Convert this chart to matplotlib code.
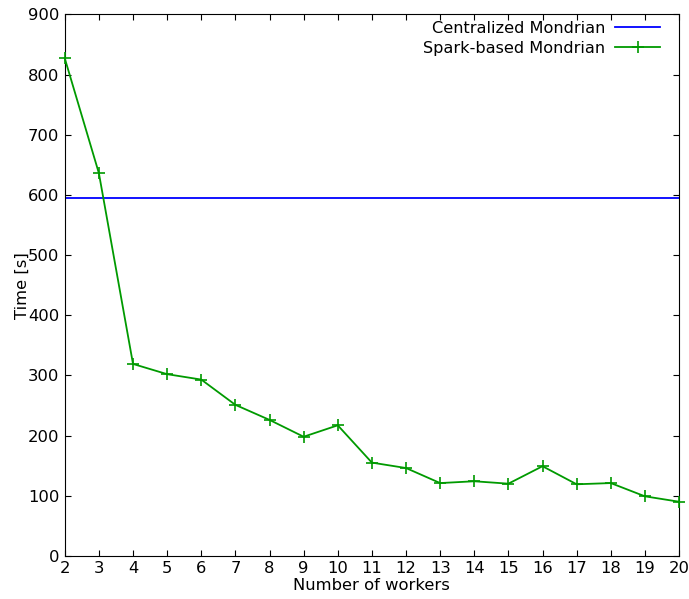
import numpy as np
import matplotlib
matplotlib.use('Agg')
import matplotlib.pyplot as plt

# data
workers = [2, 3, 4, 5, 6, 7, 8, 9, 10, 11, 12, 13, 14, 15, 16, 17, 18, 19, 20]
spark_time = [827, 636, 319, 302, 293, 251, 226, 198, 217, 155, 146, 121, 124, 120, 149, 119, 121, 99, 90]
central_time = 594

plt.rcParams['font.size'] = 11.8
plt.rcParams['xtick.direction'] = 'in'
plt.rcParams['ytick.direction'] = 'in'
plt.rcParams['xtick.top'] = True
plt.rcParams['ytick.right'] = True

fig = plt.figure(figsize=(6.89, 5.99), dpi=100)
ax = fig.add_axes([0.094, 0.072, 0.8915, 0.904])

ax.axhline(central_time, color='#0000ff', lw=1.3, label='Centralized Mondrian')
ax.plot(workers, spark_time, color='#009a00', marker='+', ms=8, mew=1.2, lw=1.3,
        label='Spark-based Mondrian', clip_on=False, zorder=3)

ax.set_xlim(2, 20)
ax.set_ylim(0, 900)
ax.set_xticks(workers)
ax.set_yticks(np.arange(0, 901, 100))
ax.tick_params(length=4, width=0.8, pad=4)
ax.set_xlabel('Number of workers', labelpad=1)
ax.set_ylabel('Time [s]')
ax.yaxis.set_label_coords(-0.057, 0.5)

ax.legend(loc='upper right', bbox_to_anchor=(0.98, 1.0), frameon=False,
          markerfirst=False, handlelength=2.8, handletextpad=0.6,
          borderaxespad=0, labelspacing=0.3, fontsize=11.6)

fig.savefig('out.png', dpi=100)
